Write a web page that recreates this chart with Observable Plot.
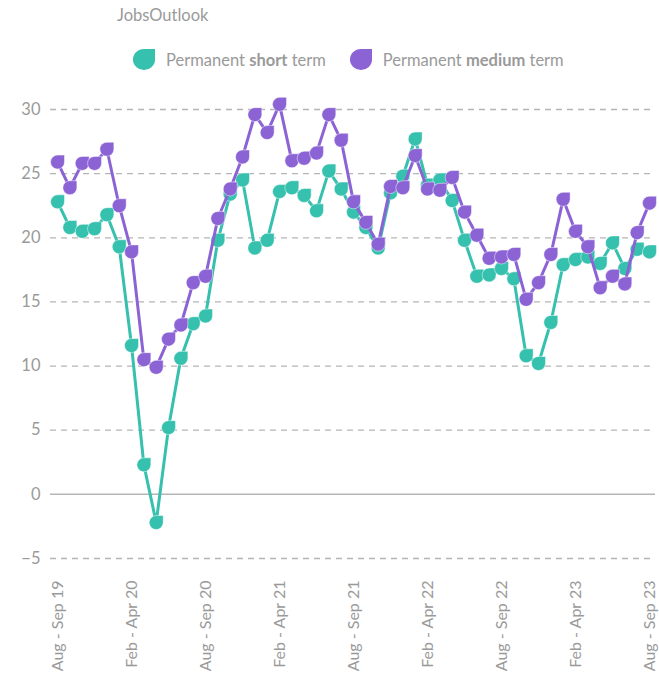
<!DOCTYPE html>
<html><head><meta charset="utf-8">
<script src="https://cdn.jsdelivr.net/npm/d3@7"></script>
<script src="https://cdn.jsdelivr.net/npm/@observablehq/plot@0.6"></script>
<style>
body{margin:0;background:#fff;font-family:Lato,sans-serif;}
#wrap{position:relative;width:659px;height:674px;overflow:hidden;}
#title{position:absolute;left:117px;top:5px;font-size:16.5px;color:#9a9a9a;}
#legend{position:absolute;top:49px;left:133px;display:flex;align-items:center;font-size:16.5px;color:#9a9a9a;}
.item{display:flex;align-items:center;margin-right:24px;}
.item svg{margin-right:11px;}
#chart{position:absolute;left:0;top:84px;}
</style></head>
<body>
<div id="wrap">
  <div id="title">JobsOutlook</div>
  <div id="legend"></div>
  <div id="chart"></div>
</div>
<script>
const xLabels = ["Aug - Sep 19","Feb - Apr 20","Aug - Sep 20","Feb - Apr 21","Aug - Sep 21","Feb - Apr 22","Aug - Sep 22","Feb - Apr 23","Aug - Sep 23"];
const shortTerm = [22.8,20.8,20.5,20.7,21.8,19.3,11.6,2.3,-2.2,5.2,10.6,13.3,13.9,19.8,23.4,24.5,19.2,19.8,23.6,23.9,23.3,22.1,25.2,23.8,22.0,20.8,19.2,23.5,24.8,27.7,24.1,24.5,22.9,19.8,17.0,17.1,17.6,16.8,10.8,10.2,13.4,17.9,18.3,18.5,18.0,19.6,17.6,19.1,18.9];
const mediumTerm = [25.9,23.9,25.8,25.8,26.9,22.5,18.9,10.5,9.9,12.1,13.2,16.5,17.0,21.5,23.8,26.3,29.6,28.2,30.4,26.0,26.2,26.6,29.6,27.6,22.8,21.2,19.5,24.0,23.9,26.4,23.8,23.7,24.7,22.0,20.2,18.4,18.5,18.7,15.2,16.5,18.7,23.0,20.5,19.3,16.1,17.0,16.4,20.4,22.7];
const seriesNames = ["Permanent short term","Permanent medium term"];
const colors = ["#36c0ae","#8c63d5"];
const yTicks = [-5,0,5,10,15,20,25,30];

const rows = [];
shortTerm.forEach((v,i)=>rows.push({i, v, s: seriesNames[0]}));
mediumTerm.forEach((v,i)=>rows.push({i, v, s: seriesNames[1]}));
const xTicks = xLabels.map((_,k)=>k*6);

const leaf = {draw(ctx, size){
  const r = Math.sqrt(size/Math.PI);
  ctx.moveTo(0,-r); ctx.lineTo(r,-r); ctx.lineTo(r,0);
  ctx.arc(0,0,r,0,Math.PI/2);
  ctx.arc(0,0,r,Math.PI/2,Math.PI);
  ctx.arc(0,0,r,Math.PI,1.5*Math.PI);
  ctx.closePath();
}};

// legend
const leg = document.getElementById("legend");
[["Permanent ","short"," term"],["Permanent ","medium"," term"]].forEach((p,k)=>{
  const d = document.createElement("div"); d.className="item";
  d.innerHTML = `<svg width="22" height="21"><path d="M11,0H22V10.5A11,10.5 0 0 1 11,21A11,10.5 0 0 1 0,10.5A11,10.5 0 0 1 11,0Z" fill="${colors[k]}"/></svg><span>${p[0]}<b>${p[1]}</b>${p[2]}</span>`;
  leg.appendChild(d);
});

const marks = [
  Plot.ruleY(yTicks.filter(t=>t!==0), {stroke:"#b5b5b5", strokeWidth:1.3, strokeDasharray:"6,5"}),
  Plot.ruleY([0], {stroke:"#b5b5b5", strokeWidth:1.5}),
  Plot.axisY({ticks:yTicks, tickSize:0, tickPadding:10, label:null, fontSize:16.5, fill:"#9a9a9a"}),
  Plot.axisX({ticks:xTicks, tickFormat:i=>xLabels[i/6], tickRotate:-90, tickSize:0, tickPadding:22, label:null, fontSize:16, fill:"#9a9a9a"})
];
seriesNames.forEach((name,k)=>{
  const d = rows.filter(r=>r.s===name);
  marks.push(Plot.line(d, {x:"i", y:"v", stroke:colors[k], strokeWidth:3}));
  marks.push(Plot.dot(d, {x:"i", y:"v", fill:colors[k], r:7, symbol:leaf, stroke:"white", strokeWidth:0.8, strokeOpacity:0.6}));
});

const chart = Plot.plot({
  width:659, height:590,
  marginLeft:50, marginRight:4, marginTop:25, marginBottom:116,
  style:{fontFamily:"Lato, sans-serif", background:"white"},
  x:{domain:[-0.57,48.49], axis:null},
  y:{domain:[-5,30], axis:null},
  marks
});
document.getElementById("chart").appendChild(chart);
</script>
</body></html>
